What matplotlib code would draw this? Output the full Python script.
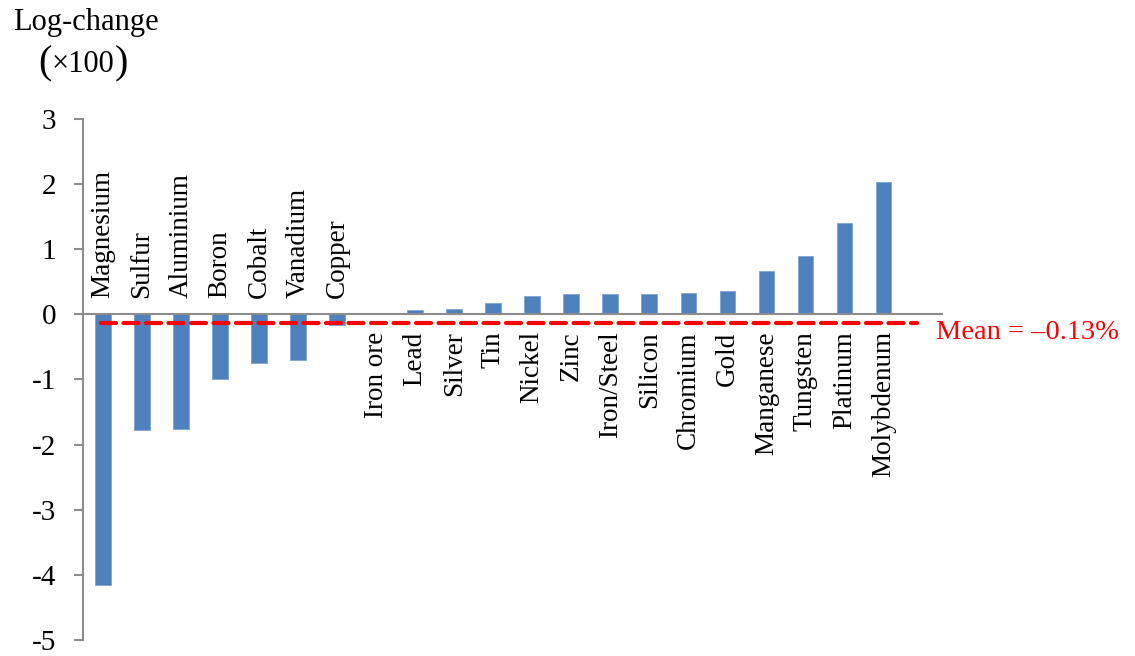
import matplotlib
matplotlib.use("Agg")
import matplotlib.pyplot as plt

metals = ["Magnesium", "Sulfur", "Aluminium", "Boron", "Cobalt", "Vanadium", "Copper",
          "Iron ore", "Lead", "Silver", "Tin", "Nickel", "Zinc", "Iron/Steel", "Silicon",
          "Chromium", "Gold", "Manganese", "Tungsten", "Platinum", "Molybdenum"]
log_change = [-4.15, -1.77, -1.76, -1.00, -0.75, -0.70, -0.17,
              0.02, 0.07, 0.09, 0.17, 0.28, 0.31, 0.31, 0.32,
              0.33, 0.36, 0.67, 0.89, 1.41, 2.03]
mean_value = -0.13
y_ticks = [-5, -4, -3, -2, -1, 0, 1, 2, 3]

plt.rcParams["font.family"] = ["Liberation Serif", "DejaVu Serif"]

fig = plt.figure(figsize=(11.35, 6.56), dpi=100)
ax = fig.add_axes([0.0734, 0.0244, 0.7566, 0.7942])

x = list(range(len(metals)))
ax.bar(x, log_change, width=0.4, color="#4F81BD", edgecolor="#7FA3D3", linewidth=0.6, zorder=2)

# mean line
ax.plot([-0.05, 20.87], [mean_value, mean_value], color="#FF0000", linewidth=3.0,
        linestyle=(0, (3.6, 1.8)), dash_capstyle="round", zorder=3)
ax.text(21.35, mean_value - 0.15, "Mean = \u20130.13%", color="#FF0000", fontsize=20.5,
        ha="left", va="center", clip_on=False)

# category labels next to the zero line
for i, (name, v) in enumerate(zip(metals, log_change)):
    if v < 0:
        ax.text(i, 0.25, name, rotation=90, ha="center", va="bottom", fontsize=19.5)
    else:
        ax.text(i, -0.26, name, rotation=90, ha="center", va="top", fontsize=19.5)

ax.set_xlim(-0.5, 21.5)
ax.set_ylim(-5, 3)
ax.set_yticks(y_ticks)
ax.set_yticklabels([str(t) for t in y_ticks], fontsize=21)
ax.set_xticks([])

ax.spines["top"].set_visible(False)
ax.spines["right"].set_visible(False)
ax.spines["bottom"].set_position(("data", 0))
ax.spines["bottom"].set_color("#8C8C8C")
ax.spines["left"].set_color("#8C8C8C")
ax.spines["bottom"].set_linewidth(1.5)
ax.spines["left"].set_linewidth(1.5)
ax.tick_params(axis="y", direction="out", length=6.5, width=1.5, color="#8C8C8C", pad=13)

fig.text(86 / 1135, 1 - 30 / 656, "Log-change", fontsize=22, ha="center", va="baseline")
# unit line with tall parentheses
fig.text(83 / 1135, 1 - 64 / 656, "\u00d7100", fontsize=22, ha="center", va="center")
fig.text(38 / 1135, 1 - 64 / 656, "(", fontsize=29, ha="left", va="center")
fig.text(128 / 1135, 1 - 64 / 656, ")", fontsize=29, ha="right", va="center")

fig.savefig("out.png", dpi=100)
